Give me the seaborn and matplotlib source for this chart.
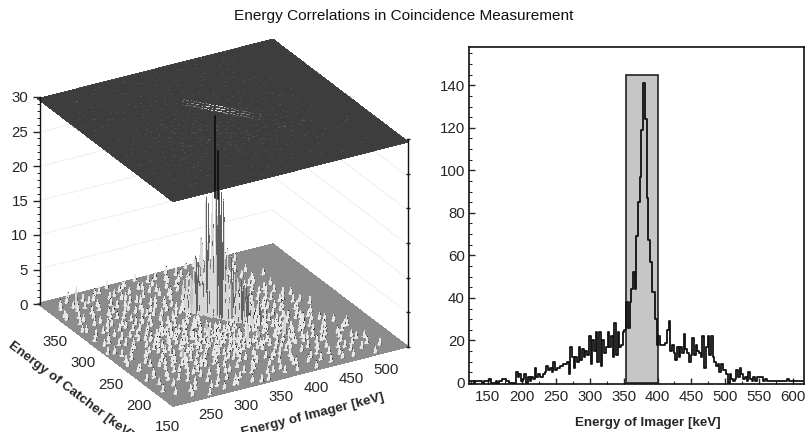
import numpy as np
import pandas as pd
import matplotlib
matplotlib.use("Agg")
import matplotlib.pyplot as plt
import seaborn as sns
from matplotlib.colors import LinearSegmentedColormap, PowerNorm
from matplotlib.patches import Rectangle
from matplotlib.ticker import MultipleLocator

# ------------------------------
# Data
# ------------------------------
# Spectrum of the imager, 2.5 keV bins starting at 122.5 keV
spec_start = 122.5
spec_step = 2.5
spec_counts = [
    1, 1, 1, 0, 1, 1, 1, 1, 0, 1, 1, 1, 2, 0, 0, 0, 1, 0, 1, 1, 2, 2, 1, 1, 0, 0, 0, 0,  # 122.5
    5, 3, 4, 1, 2, 4, 0, 3, 1, 3, 2, 7, 3, 4, 3, 3, 4, 5, 8, 6, 7, 5, 10, 6, 7, 7, 8, 8, 9, 9, 10,  # 192.5
    4, 17, 12, 7, 12, 10, 17, 11, 16, 12, 15, 13, 22, 9, 20, 15, 24, 10, 24, 8, 20, 14, 17, 24,  # 270
    17, 22, 12, 28, 13, 24, 17, 18, 24, 25,  # 330
    38, 26, 38, 44, 52, 44, 69, 85, 97, 119, 141, 124, 87, 67, 57, 43, 43, 30,  # 355
    18, 22, 18, 18, 18, 19, 25, 29, 15, 18, 14, 11, 17, 12, 17, 14, 23, 16, 14, 10,  # 400
    13, 21, 13, 18, 15, 14, 12, 22, 7, 17, 22, 13, 22, 12, 10, 8, 9, 5, 9, 6, 6,  # 450
    4, 0, 4, 2, 1, 2, 6, 3, 7, 4, 2, 3, 1, 5, 2, 1, 3, 1, 3, 3, 3, 3, 1, 2,  # 502.5
    1, 1, 1, 1, 1, 1, 1, 1, 1, 1, 1, 1, 2, 1, 1, 1, 1, 1, 1, 1, 1, 1,  # 562.5
]
gate_low = 353
gate_high = 400
gate_top = 145

x_ticks = [150, 200, 250, 300, 350, 400, 450, 500, 550, 600]
y_ticks = [0, 20, 40, 60, 80, 100, 120, 140]

# Central ridge of the 2D histogram
ridge_imager = [355, 357.5, 360, 362.5, 365, 367.5, 370, 372.5, 375, 377.5, 380, 382.5,
                385, 387.5, 390, 392.5, 395, 397.5, 400, 402.5, 405, 407.5, 410, 415]
ridge_catcher = [307.5, 305, 302.5, 300, 297.5, 295, 292.5, 290, 287.5, 285, 282.5, 280,
                 277.5, 275, 272.5, 270, 267.5, 265, 262.5, 260, 257.5, 255, 252.5, 247.5]
ridge_counts = [4, 5, 5, 6, 8, 7, 10, 17, 16, 18, 31, 24, 18, 17, 10, 9, 7, 6, 6, 5, 5, 4, 4, 3]
side_counts = [3, 4, 4, 5, 5, 6, 5, 9, 12, 15, 17, 15, 12, 8, 6, 5, 5, 5, 4, 4, 3, 3, 2, 2]
back_counts = [2, 4, 3, 4, 6, 5, 7, 8, 11, 14, 16, 17, 11, 8, 7, 6, 6, 4, 5, 3, 3, 2, 3, 2]

# Small isolated hits of the 2D histogram, one row of imager values per catcher value
catcher_rows = [145, 150, 155, 160, 165, 170, 175, 180, 185, 190, 195, 200, 205, 210, 215, 220,
                225, 230, 235, 240, 245, 250, 255, 260, 265, 270, 275, 280, 285, 290, 295, 300,
                305, 310, 315, 320, 325, 330, 335, 340, 345, 350, 355, 360, 365, 370, 375]
imager_hits = [
    [262, 335, 345, 412, 497],
    [240, 300, 305, 372, 455],
    [272, 280, 352, 360, 430, 512],
    [225, 252, 317, 392, 397, 475],
    [290, 300, 337, 422, 447, 500],
    [215, 262, 345, 367, 380, 465, 485],
    [235, 310, 315, 402, 440, 452, 507],
    [277, 290, 330, 357, 420, 477],
    [222, 250, 305, 372, 385, 392, 432, 495],
    [267, 282, 342, 350, 412, 457, 462],
    [212, 240, 297, 325, 365, 405, 437, 485],
    [255, 272, 315, 332, 380, 425, 445, 452],
    [230, 290, 302, 352, 395, 412, 470, 500, 505],
    [262, 280, 327, 340, 370, 432, 460, 510],
    [217, 247, 312, 347, 360, 385, 402, 447, 480],
    [237, 270, 295, 330, 377, 420, 427, 465],
    [257, 287, 320, 340, 355, 395, 440, 455, 457, 490],
    [212, 275, 305, 312, 365, 372, 410, 475],
    [245, 292, 327, 350, 387, 402, 430, 445],
    [227, 265, 282, 337, 360, 417, 462, 467],
    [255, 300, 310, 345, 375, 392, 437, 452, 485],
    [220, 272, 290, 322, 332, 357, 425],
    [240, 262, 302, 317, 347, 365, 412, 442, 472],
    [210, 282, 295, 330, 340, 387, 432, 455, 497],
    [250, 272, 310, 322, 352, 420, 460],
    [232, 262, 287, 302, 340, 407, 445, 480],
    [217, 277, 297, 330, 345, 425, 437, 467],
    [245, 257, 312, 322, 352, 412, 450],
    [230, 285, 305, 340, 432, 462, 490],
    [270, 295, 327, 350, 405, 420, 447],
    [222, 255, 312, 335, 415, 440, 475],
    [240, 282, 300, 345, 397, 427, 457],
    [265, 292, 322, 385, 410, 467],
    [212, 250, 305, 332, 402, 435, 480],
    [235, 277, 315, 345, 375, 420, 450],
    [260, 297, 325, 392, 412, 465],
    [222, 285, 307, 340, 367, 430],
    [245, 272, 332, 382, 402, 445, 487],
    [230, 295, 317, 357, 420, 460],
    [262, 305, 347, 372, 392, 437],
    [215, 280, 327, 410, 450, 472],
    [250, 300, 340, 365, 427],
    [237, 290, 317, 387, 402, 445, 465],
    [270, 332, 352, 417],
    [225, 257, 310, 375, 397, 457],
    [285, 322, 365, 432, 440],
    [245, 302, 342, 385, 412, 425, 470],
]
# The crowded patch in front of the ridge
dense_rows = [197, 203, 207, 213, 217, 223, 227, 233, 237, 243, 247, 253, 257, 263, 267, 273]
dense_hits = [
    [284, 308, 338, 366, 398, 426],
    [296, 318, 350, 376, 406, 440],
    [276, 304, 334, 362, 388, 418],
    [290, 322, 344, 372, 396, 430],
    [270, 300, 328, 354, 382, 412, 436],
    [286, 312, 336, 366, 392, 424],
    [278, 302, 326, 348, 372, 404, 432],
    [292, 318, 342, 360, 384, 414],
    [268, 298, 322, 336, 358, 378, 398, 424],
    [284, 306, 330, 352, 370, 392, 416],
    [276, 296, 320, 342, 364, 380, 408, 430],
    [288, 310, 334, 356, 374, 400, 422],
    [272, 300, 326, 346, 366, 382, 416],
    [286, 314, 332, 354, 404, 426],
    [276, 296, 318, 340, 412, 434],
    [290, 308, 328, 350, 420, 442],
]
# Further hits spread over the whole floor
spread_rows = [148, 158, 168, 178, 188, 198, 208, 218, 228, 238, 248, 258, 268, 278, 288, 298,
               308, 318, 328, 338, 348, 358, 368]
spread_hits = [
    [286, 324, 388, 438, 470],
    [246, 308, 372, 412, 458, 490],
    [278, 328, 396, 432, 474],
    [258, 300, 348, 378, 442, 498],
    [236, 272, 316, 362, 404, 450, 482],
    [224, 262, 292, 344, 416, 468, 492],
    [248, 272, 306, 350, 384, 428, 478],
    [222, 258, 286, 334, 368, 412, 452, 498],
    [238, 262, 296, 344, 380, 424, 462, 486],
    [216, 244, 274, 316, 354, 394, 436, 476],
    [232, 264, 298, 326, 366, 416, 448, 470],
    [218, 246, 278, 306, 352, 394, 426, 478],
    [240, 270, 292, 318, 418, 452, 490],
    [226, 266, 300, 336, 428, 444, 472],
    [214, 242, 278, 316, 344, 414, 456, 482],
    [232, 264, 290, 332, 404, 434, 466],
    [218, 254, 280, 312, 344, 396, 422, 452],
    [246, 270, 304, 336, 386, 426, 456],
    [228, 264, 292, 324, 354, 396, 438, 470],
    [214, 248, 286, 312, 362, 408, 448],
    [236, 266, 306, 348, 378, 416, 462],
    [222, 262, 298, 338, 372, 428, 454],
    [238, 276, 316, 352, 394, 420, 476],
]
# A few taller hits
tall_imager = [435, 240, 455, 430, 457, 330, 350, 300, 372]
tall_catcher = [375, 355, 225, 220, 222, 230, 245, 262, 215]
tall_counts = [4, 3, 2, 3, 2, 3, 2, 2, 3]

# Histogram binning and axis ranges of the 3D view
hist_step = 2.0
imager_min, imager_max = 205, 540
catcher_min, catcher_max = 140, 380
z_max = 30
imager_ticks = [250, 300, 350, 400, 450, 500]
catcher_ticks = [150, 200, 250, 300, 350]
z_ticks = [0, 5, 10, 15, 20, 25, 30]

# ------------------------------
# Build the tables
# ------------------------------
spec_df = pd.DataFrame({"energy": spec_start + spec_step * np.arange(len(spec_counts)),
                        "counts": spec_counts})

imager_edges = np.arange(imager_min, imager_max + hist_step, hist_step)
catcher_edges = np.arange(catcher_min, catcher_max + hist_step, hist_step)
counts = np.zeros((len(catcher_edges), len(imager_edges)))


def add_hit(im, ca, n):
    i = int(round((im - imager_min) / hist_step))
    j = int(round((ca - catcher_min) / hist_step))
    counts[j, i] = max(counts[j, i], n)


for rows, hits in [(catcher_rows, imager_hits), (dense_rows, dense_hits), (spread_rows, spread_hits)]:
    for ca, row in zip(rows, hits):
        for im in row:
            add_hit(im, ca, 1)
for im, ca, n in zip(tall_imager, tall_catcher, tall_counts):
    add_hit(im, ca, n)
for im, ca, n, s, b in zip(ridge_imager, ridge_catcher, ridge_counts, side_counts, back_counts):
    add_hit(im, ca, n)
    add_hit(im + 2 * hist_step, ca + 2 * hist_step, s)
    add_hit(im - 2 * hist_step, ca - 2 * hist_step, b)

# Shade of each cell of the floor surface: light on the left faces, dark on the right ones
dz_x = (counts[:-1, 1:] - counts[:-1, :-1] + counts[1:, 1:] - counts[1:, :-1]) / 2
dz_y = (counts[1:, :-1] - counts[:-1, :-1] + counts[1:, 1:] - counts[:-1, 1:]) / 2
cell_top = np.maximum.reduce([counts[:-1, :-1], counts[1:, :-1], counts[:-1, 1:], counts[1:, 1:]])
shade = 0.55 + 0.6 * (dz_x + 0.3 * dz_y)
shade = np.where(cell_top >= 3, np.clip(shade, 0.38, 0.84), np.clip(shade, 0.15, 0.9))
floor_colors = plt.cm.gray(shade)

# ------------------------------
# Figure
# ------------------------------
sns.set_style("ticks")
plt.rcParams["font.family"] = ["Liberation Sans", "DejaVu Sans"]
plt.rcParams["grid.color"] = "#d4d4d4"
plt.rcParams["grid.linewidth"] = 0.7
plt.rcParams["grid.linestyle"] = ":"

W, H = 808, 432
fig = plt.figure(figsize=(W / 100, H / 100), dpi=100)
fig.text(403.5 / W, 1 - 16 / H, "Energy Correlations in Coincidence Measurement",
         ha="center", va="center", fontsize=11.05, color="#111111")

# ------------------------------
# Right panel: spectrum
# ------------------------------
ax = fig.add_axes([469 / W, (H - 384) / H, 335 / W, 337 / H])
ax.add_patch(Rectangle((gate_low, 0), gate_high - gate_low, gate_top,
                       facecolor="#c6c6c6", edgecolor="#222222", linewidth=1.2, zorder=1))
sns.lineplot(data=spec_df, x="energy", y="counts", drawstyle="steps-mid", color="#111111",
             linewidth=1.3, estimator=None, errorbar=None, ax=ax, zorder=2)
ax.set_xlim(122, 616)
ax.set_ylim(-0.5, 158)
ax.set_xticks(x_ticks)
ax.set_yticks(y_ticks)
ax.xaxis.set_minor_locator(MultipleLocator(25))
ax.yaxis.set_minor_locator(MultipleLocator(5))
ax.tick_params(axis="both", which="major", direction="in", length=4, width=1, labelsize=10.8, pad=3)
ax.tick_params(axis="x", which="major", pad=4.5)
ax.tick_params(axis="both", which="minor", direction="in", length=2, width=0.8)
ax.set_xlabel("Energy of Imager [keV]", fontsize=9.65, fontweight="bold", labelpad=9, x=0.533)
ax.set_ylabel("")
for side in ax.spines.values():
    side.set_linewidth(1.2)
    side.set_color("#111111")

# ------------------------------
# Left panel: 3D histogram
# ------------------------------
ax3 = fig.add_axes([-49.5 / W, (H - 495) / H, 530 / W, 530 / H], projection="3d",
                   proj_type="ortho", computed_zorder=False)
ax3.patch.set_alpha(0)
ax3.view_init(elev=26, azim=-120)
ax3.set_box_aspect((1, 1, 0.84), zoom=0.817)
ax3.set_xlim(imager_min, imager_max)
ax3.set_ylim(catcher_min, catcher_max)
ax3.set_zlim(0, z_max)

X, Y = np.meshgrid(imager_edges, catcher_edges)
ax3.plot_surface(X, Y, counts, rstride=1, cstride=1, facecolors=floor_colors, linewidth=0,
                 antialiased=False, shade=False, zorder=2)

# Projection of the same histogram on the top plane
top_cmap = LinearSegmentedColormap.from_list("top", ["#3d3d3d", "#e8e8e8"])
top_colors = top_cmap(PowerNorm(0.9, vmin=0, vmax=12, clip=True)(counts[:-1, :-1]))
top_colors[..., 3] = 0.9
ax3.plot_surface(X, Y, np.full_like(counts, z_max), rstride=1, cstride=1,
                 facecolors=top_colors, linewidth=0, antialiased=False, shade=False, zorder=3)

# The tallest spikes show black where they run behind the plane
for im, ca, n in zip(ridge_imager, ridge_catcher, ridge_counts):
    if n > 20:
        ax3.plot([im, im], [ca, ca], [17, min(n, 29)], color="#0c0c0c", linewidth=1.2, zorder=4)

ax3.set_xticks(imager_ticks)
ax3.set_yticks(catcher_ticks)
ax3.set_zticks(z_ticks)
ax3.xaxis.gridlines.set_visible(False)
ax3.yaxis.gridlines.set_visible(False)
for axis in (ax3.xaxis, ax3.yaxis, ax3.zaxis):
    axis.set_pane_color((1, 1, 1, 0))
    axis.line.set_color((1, 1, 1, 0))
    axis.pane.set_edgecolor((0.55, 0.55, 0.55, 1))
    axis._axinfo["tick"]["inward_factor"] = 0
    axis._axinfo["tick"]["outward_factor"] = 0
    axis.label.set_visible(False)
    for tick in axis.get_major_ticks():
        tick.label1.set_visible(False)

# Floor labels, placed in data units off the floor edges so they sit straight under the ticks
for t in imager_ticks:
    ax3.text(t - 15.9, catcher_min - 31.4, 0, str(t), ha="center", va="center", fontsize=10.8,
             color="#262626", zorder=5)
for t in catcher_ticks:
    ax3.text(imager_min - 35.5, t - 44.3, 0, str(t), ha="center", va="center", fontsize=10.8,
             color="#262626", zorder=5)
ax3.text(341.9, 63.5, 0, "Energy of Imager [keV]", zdir="x", ha="center", va="center",
         fontsize=9.7, fontweight="bold", color="#262626", zorder=5)
ax3.text(116.7, 212.7, 0, "Energy of Catcher [keV]", zdir="y", ha="center", va="center",
         fontsize=9.7, fontweight="bold", color="#262626", zorder=5)

# Height scale on the left corner and plain scale on the right corner
for px, top_px, low_px, labels in [(40, 97, 304, True), (408, 139, 347, False)]:
    az = fig.add_axes([px / W, (H - low_px) / H, 0.001, (low_px - top_px) / H], facecolor="none")
    az.set_ylim(0, z_max)
    az.set_yticks(z_ticks)
    az.yaxis.set_minor_locator(MultipleLocator(1))
    az.set_xticks([])
    sns.despine(ax=az, top=True, right=True, bottom=True)
    az.spines["left"].set_linewidth(1)
    az.spines["left"].set_color("#111111")
    if labels:
        az.tick_params(axis="y", which="major", length=5, width=1, labelsize=10.8, pad=3.5)
        az.tick_params(axis="y", which="minor", length=2.2, width=0.7)
    else:
        az.tick_params(axis="y", which="major", direction="inout", length=2.5, width=1, labelleft=False)
        az.tick_params(axis="y", which="minor", length=0)

fig.savefig("out.png", dpi=100)
